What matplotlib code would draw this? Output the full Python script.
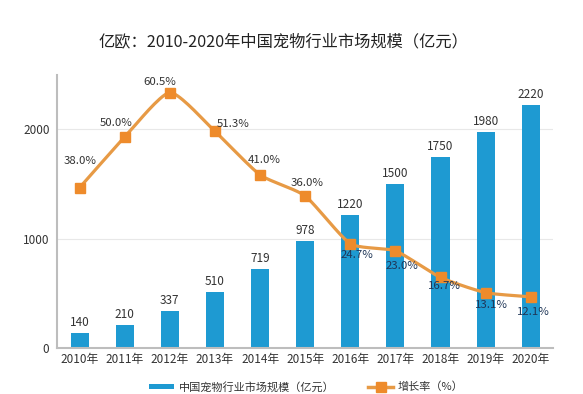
import numpy as np
import matplotlib
matplotlib.use("Agg")
import matplotlib.pyplot as plt
from matplotlib.lines import Line2D
from matplotlib.patches import Patch

plt.rcParams['font.family'] = ['Noto Sans CJK SC', 'DejaVu Sans']

years = ["2010年", "2011年", "2012年", "2013年", "2014年", "2015年",
         "2016年", "2017年", "2018年", "2019年", "2020年"]
market = [140, 210, 337, 510, 719, 978, 1220, 1500, 1750, 1980, 2220]
growth = [38.0, 50.0, 60.5, 51.3, 41.0, 36.0, 24.7, 23.0, 16.7, 13.1, 12.1]
title = "亿欧：2010-2020年中国宠物行业市场规模（亿元）"
bar_name = "中国宠物行业市场规模（亿元）"
line_name = "增长率（%）"

# label offsets in pixels (dx, dy) for growth labels
lab_off = [(0, 27), (-9, 14), (-10, 11), (18, 7), (4, 15), (2, 13),
           (7, -11), (7, -15), (4, -9), (6, -12), (3, -15)]

BLUE = "#1E9AD2"
ORANGE = "#EE8B2B"
LINE = "#E79A45"

fig = plt.figure(figsize=(5.83, 3.94), dpi=100)
ax = fig.add_axes([0.098, 0.117, 0.851, 0.693])
x = np.arange(len(years))
ax.bar(x, market, width=0.4, color=BLUE, zorder=2)
ax.set_xlim(-0.5, len(years) - 0.5)
ax.set_ylim(0, 2500)
ax.set_yticks([0, 1000, 2000])
ax.set_xticks(x)
ax.set_xticklabels(years, fontsize=8.5, color="#333333")
ax.tick_params(axis='y', length=0, labelsize=8.5, labelcolor="#333333", pad=5.5)
ax.tick_params(axis='x', length=0, pad=4)
ax.grid(axis='y', color="#E8E8E8", lw=0.8, zorder=0)
for s in ["top", "right"]:
    ax.spines[s].set_visible(False)
ax.spines["left"].set_color("#BDBDBD")
ax.spines["bottom"].set_color("#BDBDBD")
ax.spines["left"].set_linewidth(1.5)
ax.spines["bottom"].set_linewidth(1.5)

for xi, v in zip(x, market):
    ax.annotate(str(v), (xi, v), xytext=(0, 4), textcoords="offset pixels",
                ha="center", va="bottom", fontsize=8.5, color="#333333")

ax2 = ax.twinx()
ax2.set_ylim(0, 64.7)
ax2.axis("off")

# smooth curve (Catmull-Rom through data points) for drawing
gx = np.array(x, dtype=float)
gy = np.array(growth, dtype=float)
px = np.concatenate([[2 * gx[0] - gx[1]], gx, [2 * gx[-1] - gx[-2]]])
py = np.concatenate([[2 * gy[0] - gy[1]], gy, [2 * gy[-1] - gy[-2]]])
sx, sy = [], []
t = np.linspace(0, 1, 20)
for i in range(1, len(px) - 2):
    p0, p1, p2, p3 = (np.array([px[j], py[j]]) for j in range(i - 1, i + 3))
    m1 = (p2 - p0) / 2 * 0.6
    m2 = (p3 - p1) / 2 * 0.6
    h00 = 2 * t**3 - 3 * t**2 + 1
    h10 = t**3 - 2 * t**2 + t
    h01 = -2 * t**3 + 3 * t**2
    h11 = t**3 - t**2
    pts = (np.outer(h00, p1) + np.outer(h10, m1) + np.outer(h01, p2) + np.outer(h11, m2))
    sx.extend(pts[:, 0]); sy.extend(pts[:, 1])
ax2.plot(sx, sy, color=LINE, lw=2.3, zorder=3, solid_capstyle="round")
ax2.plot(gx, gy, ls="none", marker="s", ms=7, color=ORANGE, zorder=4)

for i, (xi, g) in enumerate(zip(gx, gy)):
    dx, dy = lab_off[i]
    col = "#333333" if dy > 0 else "#1F3657"
    ax2.annotate(f"{g:.1f}%", (xi, g), xytext=(dx, dy), textcoords="offset pixels",
                 ha="center", va="center", fontsize=8.2, color=col, zorder=5)

fig.text(0.487, 0.895, title, ha="center", va="center", fontsize=11.7, color="#222222")

handles = [Patch(facecolor=BLUE, edgecolor="none"),
           Line2D([0], [0], color=LINE, lw=2.5, marker="s", ms=7, mfc=ORANGE, mec=ORANGE)]
fig.legend(handles, [bar_name, line_name], loc="center", bbox_to_anchor=(0.525, 0.018),
           ncol=2, frameon=False, fontsize=8, handlelength=2.3, handleheight=0.35,
           columnspacing=3.0, handletextpad=0.4, labelcolor="#333333")

fig.savefig("out.png", dpi=100)
